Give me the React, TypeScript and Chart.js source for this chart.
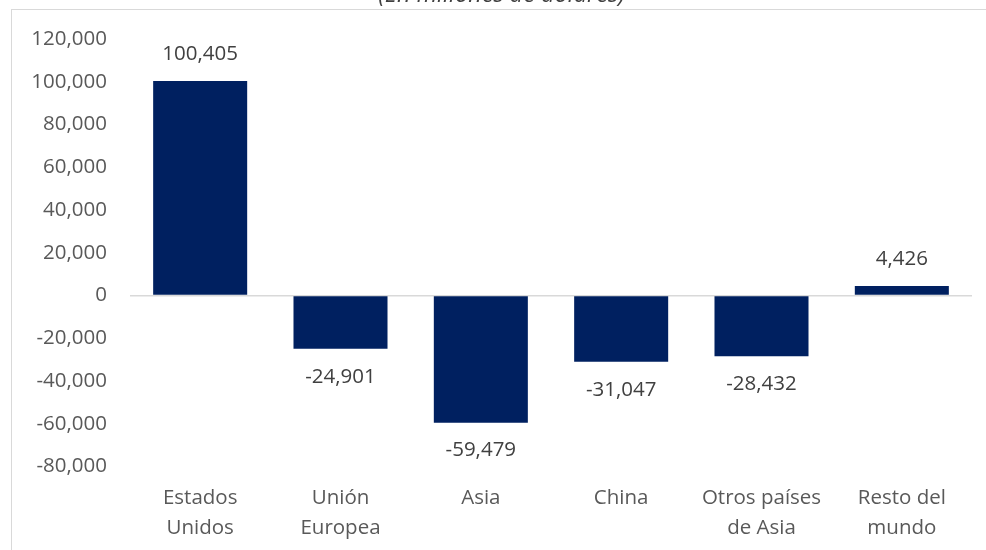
import React, { useEffect, useRef } from "react";
import { Chart, registerables } from "chart.js";

Chart.register(...registerables);

const categories: string[][] = [
  ["Estados", "Unidos"],
  ["Unión", "Europea"],
  ["Asia"],
  ["China"],
  ["Otros países", "de Asia"],
  ["Resto del", "mundo"],
];
const values: number[] = [100405, -24901, -59479, -31047, -28432, 4426];
const yMin = -80000;
const yMax = 120000;
const yStep = 20000;
const titleText = "(En millones de dólares)";

const FONT = "'Open Sans', 'Noto Sans', sans-serif";
const FS = 20.5;
const fmt = (v: number) => v.toLocaleString("en-US");

const labelPlugin = {
  id: "barLabels",
  afterDatasetsDraw(chart: any) {
    const ctx = chart.ctx;
    const meta = chart.getDatasetMeta(0);
    ctx.save();
    ctx.font = `${FS}px ${FONT}`;
    ctx.fillStyle = "#404040";
    ctx.textAlign = "center";
    ctx.textBaseline = "middle";
    meta.data.forEach((el: any, i: number) => {
      const v = values[i];
      const y = v >= 0 ? el.y - 27 : el.y + 28;
      ctx.fillText(fmt(v), el.x, y);
    });
    ctx.restore();
  },
};

export default function App() {
  const ref = useRef<HTMLCanvasElement | null>(null);
  useEffect(() => {
    if (!ref.current) return;
    const chart = new Chart(ref.current, {
      type: "bar",
      data: {
        labels: categories,
        datasets: [
          {
            data: values,
            backgroundColor: "#002060",
            borderWidth: 0,
            categoryPercentage: 1,
            barPercentage: 0.67,
          },
        ],
      },
      options: {
        animation: false,
        responsive: false,
        devicePixelRatio: 1,
        layout: { padding: { top: 39, right: 14, left: 0, bottom: 0 } },
        plugins: {
          legend: { display: false },
          tooltip: { enabled: false },
          title: { display: false },
        },
        scales: {
          x: {
            grid: { display: false, drawTicks: false },
            border: { display: false },
            ticks: {
              color: "#595959",
              font: { family: FONT, size: FS, lineHeight: 1.42 },
              padding: 17.5,
              maxRotation: 0,
              autoSkip: false,
            },
            afterFit: (s: any) => {
              s.height = 83.5;
            },
          },
          y: {
            min: yMin,
            max: yMax,
            grid: {
              drawTicks: false,
              lineWidth: 1.5,
              color: (c: any) => (c.tick && c.tick.value === 0 ? "#d9d9d9" : "rgba(0,0,0,0)"),
            },
            border: { display: false },
            ticks: {
              stepSize: yStep,
              color: "#595959",
              font: { family: FONT, size: FS },
              padding: 23,
              callback: (v: any) => fmt(Number(v)),
            },
            afterFit: (s: any) => {
              s.width = 130;
            },
          },
        },
      },
      plugins: [labelPlugin],
    });
    return () => chart.destroy();
  }, []);

  return (
    <div
      style={{
        position: "fixed",
        left: 0,
        top: 0,
        width: 986,
        height: 550,
        overflow: "hidden",
        background: "#ffffff",
      }}
    >
      <div
        style={{
          position: "absolute",
          left: 11,
          top: 9,
          width: 1200,
          height: 800,
          border: "1.5px solid #d9d9d9",
          boxSizing: "border-box",
        }}
      />
      <canvas ref={ref} width={986} height={550} style={{ position: "absolute", left: 0, top: 0 }} />
      <div
        style={{
          position: "absolute",
          left: 0,
          width: 986,
          top: -19,
          textAlign: "center",
          fontFamily: FONT,
          fontStyle: "italic",
          fontSize: 23.5,
          lineHeight: "24px",
          color: "#404040",
          paddingLeft: 17,
          boxSizing: "border-box",
          whiteSpace: "nowrap",
        }}
      >
        {titleText}
      </div>
    </div>
  );
}
